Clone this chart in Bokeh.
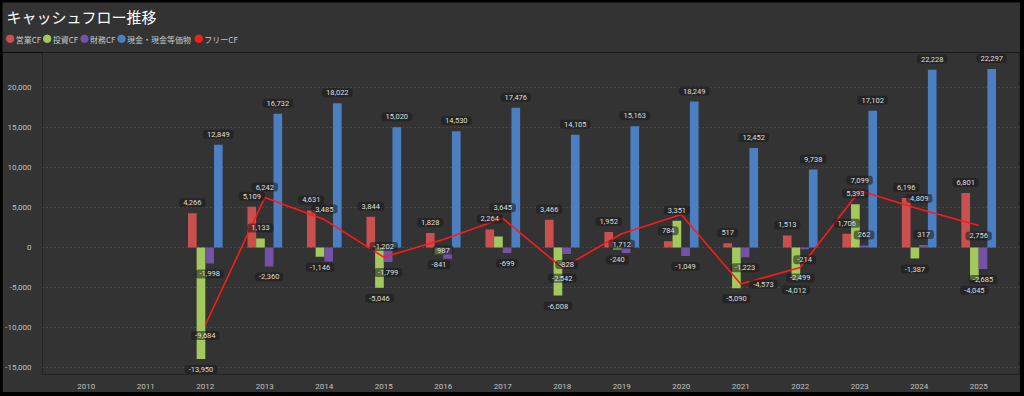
import numpy as np
from bokeh.plotting import figure
from bokeh.layouts import column
from bokeh.models import Range1d, FixedTicker, NumeralTickFormatter, ColumnDataSource
from bokeh.core.properties import value
from bokeh.embed import file_html
from bokeh.resources import INLINE

# ---------------- data ----------------
title_text = "キャッシュフロー推移"
years = [2010, 2011, 2012, 2013, 2014, 2015, 2016, 2017, 2018, 2019, 2020, 2021, 2022, 2023, 2024, 2025]
nan = np.nan
op_cf = [nan, nan, 4266, 5109, 4631, 3844, 1828, 2264, 3466, 1952, 784, 517, 1513, 1706, 6196, 6801]
inv_cf = [nan, nan, -13950, 1133, -1146, -5046, -841, 1381, -6008, -240, 3351, -5090, -4012, 5393, -1387, -4045]
fin_cf = [nan, nan, -1998, -2360, -1760, -1799, -1400, -699, -828, -700, -1049, -1223, -214, 262, 317, -2685]
cash = [nan, nan, 12849, 16732, 18022, 15020, 14530, 17476, 14105, 15163, 18249, 12452, 9738, 17102, 22228, 22297]
free_cf = [nan, nan, -9684, 6242, 3485, -1202, 987, 3645, -2542, 1712, 4135, -4573, -2499, 7099, 4809, 2756]
series_names = ["営業CF", "投資CF", "財務CF", "現金・現金等価物"]
line_name = "フリーCF"
y_ticks = [-15000, -10000, -5000, 0, 5000, 10000, 15000, 20000]

# ---------------- styles ----------------
BG = "#333333"
bar_colors = ["#C8504F", "#A3C95E", "#7453A6", "#4C7FC2"]
line_color = "#FF1A1A"
# data labels that the reference hides (overlap)
hidden_labels = {(2, 2014), (2, 2016), (1, 2017), (2, 2019)}
free_label_side = ["", "", "below", "above", "above", "above", "below", "above", "below",
                   "below", "", "right", "below", "above", "above", "below"]

W = 1018
BAR_W = 0.1457
offsets = [-1.5, -0.5, 0.5, 1.5]

# ---------------- header (title + legend) ----------------
hdr = figure(width=W, height=50, output_backend="svg", toolbar_location=None,
             x_range=Range1d(2, 1020), y_range=Range1d(52, 2),
             x_axis_location=None, y_axis_location=None,
             min_border=0, outline_line_color=None,
             background_fill_color=BG, border_fill_color=BG)
hdr.grid.visible = False
hdr.text(x=[6], y=[16], text=[title_text], text_font=value("Noto Sans CJK JP"),
         text_font_size="15px", text_color="#ffffff", text_baseline="middle", text_align="left")
leg_x = [9.7, 46.7, 84.0, 121.0, 198.3]
leg_names = series_names + [line_name]
leg_colors = bar_colors + [line_color]
hdr.scatter(x=leg_x, y=[38.3] * 5, size=7.5, color=leg_colors, marker="circle")
hdr.text(x=[v + 5.5 for v in leg_x], y=[38.6] * 5, text=leg_names,
         text_font=value("Noto Sans CJK JP"), text_font_size="8px", text_color="#c8c8c8",
         text_baseline="middle", text_align="left")

# ---------------- main chart ----------------
p = figure(width=W, height=340, output_backend="svg", toolbar_location=None,
           x_range=Range1d(2009.263, 2025.686), y_range=Range1d(-15875, 24375),
           min_border_left=36, min_border_right=1, min_border_top=0, min_border_bottom=18,
           outline_line_color=None, background_fill_color=BG, border_fill_color=BG)

for fig in (hdr, p):
    try:
        fig.frame_align = False
    except Exception:
        pass

p.xgrid.visible = False
p.ygrid.grid_line_color = "#5e5e5e"
p.ygrid.grid_line_dash = "1 3"
p.ygrid.grid_line_width = 1

p.yaxis.ticker = FixedTicker(ticks=y_ticks)
p.yaxis.formatter = NumeralTickFormatter(format="0,0")
p.xaxis.ticker = FixedTicker(ticks=years)
for ax in (p.xaxis, p.yaxis):
    ax.axis_line_color = None
    ax.major_tick_line_color = None
    ax.minor_tick_line_color = None
    ax.major_label_text_color = "#c0c0c0"
    ax.major_label_text_font = "Roboto"
    ax.major_label_text_font_size = "8px"
p.yaxis.major_label_standoff = 5
p.xaxis.major_label_standoff = 3

all_series = [op_cf, inv_cf, fin_cf, cash]
for i, (vals, col) in enumerate(zip(all_series, bar_colors)):
    xs = [y + offsets[i] * BAR_W for y in years]
    p.vbar(x=xs, top=vals, bottom=0, width=BAR_W, fill_color=col, line_color=None)

p.line(x=years, y=free_cf, line_color=line_color, line_width=1.6)

# data labels
lx, ly, lt, lxo, lyo = [], [], [], [], []
for i, vals in enumerate(all_series):
    for yr, v in zip(years, vals):
        if np.isnan(v) or (i, yr) in hidden_labels:
            continue
        lx.append(yr + offsets[i] * BAR_W)
        ly.append(v)
        lt.append(f"{int(v):,}")
        lxo.append(0)
        lyo.append(-10.5 if v >= 0 else 10.5)
for yr, v, side in zip(years, free_cf, free_label_side):
    if np.isnan(v) or not side:
        continue
    lx.append(yr)
    ly.append(v)
    lt.append(f"{int(v):,}")
    if side == "right":
        lxo.append(22.7); lyo.append(0)
    elif side == "above":
        lxo.append(0); lyo.append(-10.5)
    else:
        lxo.append(0); lyo.append(10.5)

src = ColumnDataSource(dict(x=lx, y=ly, t=lt, xo=lxo, yo=lyo))
p.text(x="x", y="y", text="t", source=src, x_offset="xo", y_offset="yo",
       text_align="center", text_baseline="middle", text_font=value("Roboto"),
       text_font_size="7.5px", text_color="#dedede",
       background_fill_color="#1a1a1a", background_fill_alpha=0.55,
       padding=dict(left=4, right=4, top=2, bottom=2), border_radius=3)

layout = column(hdr, p, spacing=0)
html = file_html(layout, INLINE)
html = html.replace("</head>",
                    "<style>html,body{margin:0!important;padding:0;background:#000;}"
                    "body{padding:2px 0 0 2px;}</style></head>", 1)
open("out.html", "w").write(html)
